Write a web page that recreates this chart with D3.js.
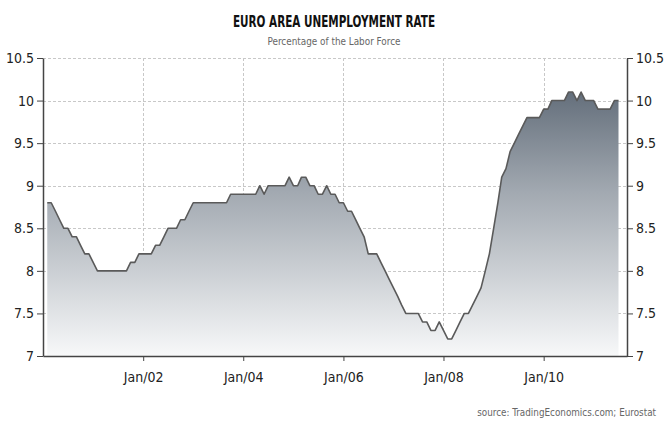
<!DOCTYPE html>
<html>
<head>
<meta charset="utf-8">
<script src="https://cdn.jsdelivr.net/npm/d3@7"></script>
<style>
  body { margin: 0; background: #fff; }
  svg text { font-family: "DejaVu Sans Condensed", "DejaVu Sans", sans-serif; font-stretch: condensed; }
</style>
</head>
<body>
<script>
// monthly euro area unemployment, Feb 2000 .. Aug 2011
const startMonth = new Date(2000, 1, 1);
const rates = [
  8.8, 8.8, 8.7, 8.6, 8.5, 8.5, 8.4, 8.4, 8.3, 8.2, 8.2,           // 2000 Feb-Dec
  8.1, 8.0, 8.0, 8.0, 8.0, 8.0, 8.0, 8.0, 8.0, 8.1, 8.1,           // 2001 ... 
  8.2, 8.2, 8.2, 8.2, 8.3, 8.3, 8.4, 8.5, 8.5, 8.5, 8.6, 8.6,      // 2002
  8.7, 8.8, 8.8, 8.8, 8.8, 8.8, 8.8, 8.8, 8.8, 8.8, 8.9, 8.9,      // 2003
  8.9, 8.9, 8.9, 8.9, 8.9, 9.0, 8.9, 9.0, 9.0, 9.0, 9.0, 9.0,      // 2004
  9.1, 9.0, 9.0, 9.1, 9.1, 9.0, 9.0, 8.9, 8.9, 9.0, 8.9, 8.9,      // 2005
  8.8, 8.8, 8.7, 8.7, 8.6, 8.5, 8.4, 8.2, 8.2, 8.2, 8.1, 8.0,      // 2006
  7.9, 7.8, 7.7, 7.6, 7.5, 7.5, 7.5, 7.5, 7.4, 7.4, 7.3, 7.3,      // 2007
  7.4, 7.3, 7.2, 7.2, 7.3, 7.4, 7.5, 7.5, 7.6, 7.7, 7.8, 8.0,      // 2008
  8.2, 8.5, 8.8, 9.1, 9.2, 9.4, 9.5, 9.6, 9.7, 9.8, 9.8, 9.8,      // 2009
  9.8, 9.9, 9.9, 10.0, 10.0, 10.0, 10.0, 10.1, 10.1, 10.0, 10.1, 10.0, // 2010
  10.0, 10.0, 9.9, 9.9, 9.9, 9.9, 10.0, 10.0                       // 2011 Jan-Aug
];
const yTicks = [7, 7.5, 8, 8.5, 9, 9.5, 10, 10.5];
const xTickYears = [2002, 2004, 2006, 2008, 2010];

const titleText = "EURO AREA UNEMPLOYMENT RATE";
const subtitleText = "Percentage of the Labor Force";
const sourceText = "source: TradingEconomics.com; Eurostat";

const data = rates.map((v, i) => ({ date: d3.timeMonth.offset(startMonth, i), value: v }));

const W = 668, H = 429;
const mLeft = 43, mRight = 627, mTop = 58, mBottom = 356;

const svg = d3.select("body").append("svg").attr("width", W).attr("height", H);

const x = d3.scaleTime().domain([new Date(2000, 0, 1), new Date(2011, 8, 1)]).range([mLeft, mRight]);
const y = d3.scaleLinear().domain([7, 10.5]).range([mBottom, mTop]);

// gradient for the area
const grad = svg.append("defs").append("linearGradient")
  .attr("id", "fillGrad").attr("gradientUnits", "userSpaceOnUse")
  .attr("x1", 0).attr("x2", 0).attr("y1", mTop).attr("y2", mBottom);
grad.append("stop").attr("offset", "0%").attr("stop-color", "#4f5b69");
grad.append("stop").attr("offset", "45%").attr("stop-color", "#a2a9b1");
grad.append("stop").attr("offset", "100%").attr("stop-color", "#f7f8f9");

// grid
const grid = svg.append("g").attr("stroke", "#c8c8c8").attr("stroke-dasharray", "3 2").attr("stroke-width", 1);
grid.selectAll("line.h").data(yTicks.filter(d => d > 7)).join("line")
  .attr("x1", mLeft).attr("x2", mRight)
  .attr("y1", d => Math.round(y(d)) + 0.5).attr("y2", d => Math.round(y(d)) + 0.5);
grid.selectAll("line.v").data(xTickYears).join("line")
  .attr("x1", d => Math.round(x(new Date(d, 0, 1))) + 0.5).attr("x2", d => Math.round(x(new Date(d, 0, 1))) + 0.5)
  .attr("y1", mTop).attr("y2", mBottom);

// area + line
const area = d3.area().x(d => x(d.date)).y0(mBottom).y1(d => y(d.value));
const line = d3.line().x(d => x(d.date)).y(d => y(d.value));

svg.append("path").datum(data).attr("d", area).attr("fill", "url(#fillGrad)");
svg.append("path").datum(data).attr("d", line)
  .attr("fill", "none").attr("stroke", "#5a5a5a").attr("stroke-width", 1.6).attr("stroke-linejoin", "round");

// axes
const fmtY = d => String(d);
const axisStyle = g => {
  g.select(".domain").attr("stroke", "#444").attr("stroke-width", 1.5);
  g.selectAll(".tick line").attr("stroke", "#444");
  g.selectAll(".tick text").attr("fill", "#222").attr("font-size", 14);
};

svg.append("g").attr("transform", `translate(${mLeft},0)`)
  .call(d3.axisLeft(y).tickValues(yTicks).tickFormat(fmtY).tickSize(6).tickSizeOuter(0).tickPadding(3))
  .call(axisStyle);

svg.append("g").attr("transform", `translate(${mRight},0)`)
  .call(d3.axisRight(y).tickValues(yTicks).tickFormat(fmtY).tickSize(6).tickSizeOuter(0).tickPadding(3))
  .call(axisStyle);

svg.append("g").attr("transform", `translate(0,${mBottom})`)
  .call(d3.axisBottom(x).tickValues(xTickYears.map(yr => new Date(yr, 0, 1)))
    .tickFormat(d3.timeFormat("Jan/%y")).tickSize(5).tickSizeOuter(0).tickPadding(11))
  .call(axisStyle);

// titles (squeezed to the narrow face of the original)
svg.append("text").attr("x", 334).attr("y", 27).attr("text-anchor", "middle")
  .attr("font-size", 16).attr("font-weight", "bold").attr("fill", "#111")
  .attr("textLength", 202).attr("lengthAdjust", "spacingAndGlyphs").text(titleText);
svg.append("text").attr("x", 334).attr("y", 45).attr("text-anchor", "middle")
  .attr("font-size", 11).attr("fill", "#666")
  .attr("textLength", 133).attr("lengthAdjust", "spacingAndGlyphs").text(subtitleText);
svg.append("text").attr("x", 656).attr("y", 416).attr("text-anchor", "end")
  .attr("font-size", 9.8).attr("fill", "#666").text(sourceText);
</script>
</body>
</html>
